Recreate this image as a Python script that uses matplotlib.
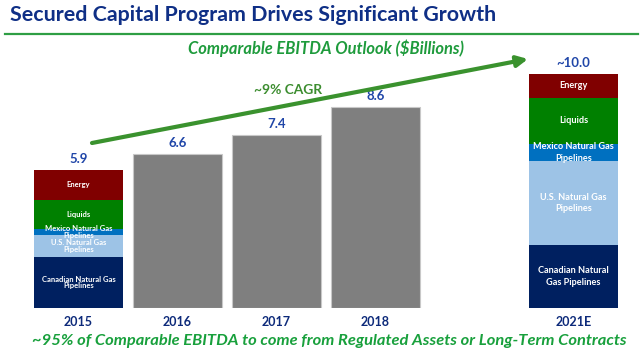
import matplotlib
matplotlib.use("Agg")
import matplotlib.pyplot as plt
import numpy as np

years = ["2015", "2016", "2017", "2018", "2021E"]
xpos = [0, 1, 2, 3, 5]
totals = ["5.9", "6.6", "7.4", "8.6", "~10.0"]

# gray bars (2016-2018)
gray_vals = [6.6, 7.4, 8.6]

# stacked segments, bottom to top
segments = ["Canadian Natural Gas Pipelines", "U.S. Natural Gas Pipelines",
            "Mexico Natural Gas Pipelines", "Liquids", "Energy"]
seg_2015 = [2.18, 0.94, 0.26, 1.24, 1.28]
seg_2021 = [2.69, 3.59, 0.73, 1.97, 1.02]
labels_2015 = ["Canadian Natural Gas\nPipelines", "U.S. Natural Gas\nPipelines",
               "Mexico Natural Gas\nPipelines", "Liquids", "Energy"]
labels_2021 = ["Canadian Natural\nGas Pipelines", "U.S. Natural Gas\nPipelines",
               "Mexico Natural Gas\nPipelines", "Liquids", "Energy"]
seg_colors = ["#002060", "#9dc3e6", "#0070c0", "#008000", "#800000"]

FONT = "Lato"
W, H = 640, 355

fig = plt.figure(figsize=(6.4, 3.55), dpi=100)
fig.patch.set_facecolor("white")
ax = fig.add_axes([20 / W, 1 - 308 / H, 610 / W, 248 / H])
ax.set_xlim(-0.591, 5.571)
ax.set_ylim(0, 10.6)
ax.axis("off")
renderer = fig.canvas.get_renderer()


def fit(t, width_px):
    # scale the font so the text spans about width_px, like the reference
    w = t.get_window_extent(renderer).width
    t.set_fontsize(t.get_fontsize() * width_px / w)


bw = 0.9
ax.bar(xpos[1:4], gray_vals, width=bw, color="#7f7f7f", edgecolor="#c8c8c8", linewidth=0.8)

for x, vals, labs, fs, ls in [(xpos[0], seg_2015, labels_2015, 5.5, 0.85),
                              (xpos[4], seg_2021, labels_2021, 6.6, 1.3)]:
    bottom = 0
    for v, c, lab in zip(vals, seg_colors, labs):
        ax.bar(x, v, bottom=bottom, width=bw, color=c, edgecolor="none")
        ax.text(x, bottom + v / 2, lab, ha="center", va="center", color="white",
                fontsize=fs, fontweight="bold", family=FONT, linespacing=ls)
        bottom += v

tops = [sum(seg_2015)] + gray_vals + [sum(seg_2021)]
for x, t, lab in zip(xpos, tops, totals):
    ax.text(x, t + 0.2, lab, ha="center", va="bottom", color="#2046a8",
            fontsize=9.5, fontweight="bold", family=FONT)

for x, y in zip(xpos, years):
    ax.text(x, -0.6, y, ha="center", va="center", color="#0d2a7a",
            fontsize=9, fontweight="bold", family=FONT)

title = fig.text(10 / W, 1 - 15 / H, "Secured Capital Program Drives Significant Growth",
                 ha="left", va="center", color="#0f2f86", fontsize=14, fontweight="bold", family=FONT)
fit(title, 490)
fig.add_artist(plt.Line2D([5 / W, 638 / W], [1 - 34 / H, 1 - 34 / H], color="#2e9e44", lw=1.6))
sub = fig.text(326 / W, 1 - 48 / H, "Comparable EBITDA Outlook ($Billions)", ha="center", va="center",
               color="#1e9b3c", fontsize=10, fontweight="bold", style="italic", family=FONT)
fit(sub, 277)

ax.annotate("", xy=(528, H - 59), xytext=(92, H - 143), xycoords="figure pixels",
            textcoords="figure pixels",
            arrowprops=dict(arrowstyle="-|>", lw=3, color="#3a922e", mutation_scale=16,
                            shrinkA=0, shrinkB=0))
cagr = fig.text(288 / W, 1 - 90 / H, "~9% CAGR", ha="center", va="center", color="#3c8d2f",
                fontsize=10, fontweight="bold", family=FONT)
fit(cagr, 68)

foot = fig.text(329 / W, 1 - 341 / H,
                "~95% of Comparable EBITDA to come from Regulated Assets or Long-Term Contracts",
                ha="center", va="center", color="#18a03c", fontsize=10, fontweight="bold",
                style="italic", family=FONT)
fit(foot, 592)

fig.savefig("out.png", dpi=100)
